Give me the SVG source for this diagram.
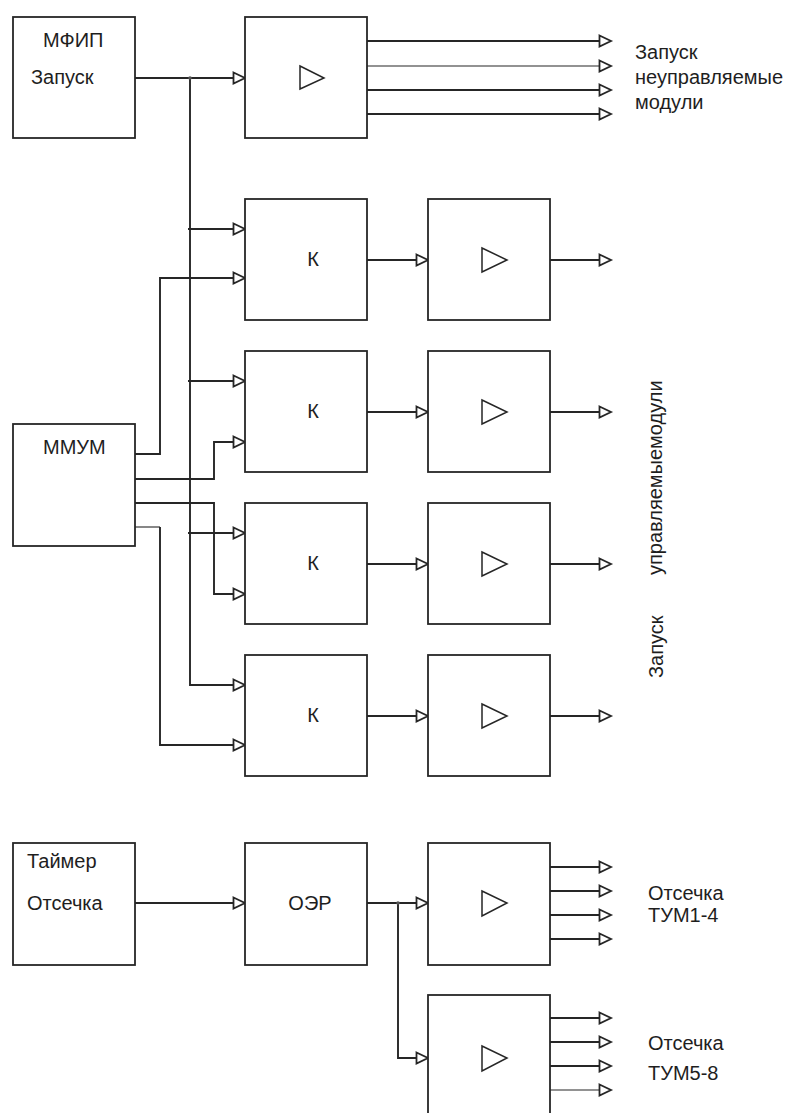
<svg xmlns="http://www.w3.org/2000/svg" width="795" height="1113" viewBox="0 0 795 1113">
<style>
.box{fill:#fff;stroke:#262626;stroke-width:1.8}
.tri{fill:none;stroke:#262626;stroke-width:1.5}
.t{font-family:"Liberation Sans",Arial,sans-serif;font-size:20px;fill:#1e1e1e}
.c{fill:none;stroke:#262626;stroke-width:1.9}
.thin{stroke-width:1.1}
</style>
<defs>
<marker id="arr" markerUnits="userSpaceOnUse" markerWidth="16" markerHeight="14" refX="13" refY="7" orient="auto">
<path d="M1.5,1.5 L13,7 L1.5,12.5 Z" fill="#fff" stroke="#262626" stroke-width="1.8"/>
</marker>
</defs>
<rect width="795" height="1113" fill="#fff"/>

<g id="connectors">
<path class="c" d="M135,78 H245" marker-end="url(#arr)"/>
<path class="c" d="M190,78 V685 H245" marker-end="url(#arr)"/>
<path class="c" d="M188,229 H245" marker-end="url(#arr)"/>
<path class="c" d="M188,381 H245" marker-end="url(#arr)"/>
<path class="c" d="M188,533 H245" marker-end="url(#arr)"/>
<path class="c" d="M367,41 H611" marker-end="url(#arr)"/>
<path class="c thin" d="M367,66 H611" marker-end="url(#arr)"/>
<path class="c" d="M367,90 H611" marker-end="url(#arr)"/>
<path class="c" d="M367,114 H611" marker-end="url(#arr)"/>
<path class="c" d="M367,260 H428" marker-end="url(#arr)"/>
<path class="c" d="M367,412 H428" marker-end="url(#arr)"/>
<path class="c" d="M367,564 H428" marker-end="url(#arr)"/>
<path class="c" d="M367,716 H428" marker-end="url(#arr)"/>
<path class="c" d="M550,260 H611" marker-end="url(#arr)"/>
<path class="c" d="M550,412 H611" marker-end="url(#arr)"/>
<path class="c" d="M550,564 H611" marker-end="url(#arr)"/>
<path class="c" d="M550,716 H611" marker-end="url(#arr)"/>
<path class="c" d="M135,454 H160 V278 H245" marker-end="url(#arr)"/>
<path class="c" d="M135,479 H214 V442 H245" marker-end="url(#arr)"/>
<path class="c" d="M135,503 H214 V594 H245" marker-end="url(#arr)"/>
<path class="c thin" d="M135,527 H160"/>
<path class="c" d="M160,527 V745 H245" marker-end="url(#arr)"/>
<path class="c" d="M135,903 H245" marker-end="url(#arr)"/>
<path class="c" d="M367,903 H428" marker-end="url(#arr)"/>
<path class="c" d="M398,903 V1058 H428" marker-end="url(#arr)"/>
<path class="c" d="M550,867 H611" marker-end="url(#arr)"/>
<path class="c" d="M550,891 H611" marker-end="url(#arr)"/>
<path class="c" d="M550,915 H611" marker-end="url(#arr)"/>
<path class="c" d="M550,939 H611" marker-end="url(#arr)"/>
<path class="c" d="M550,1018 H611" marker-end="url(#arr)"/>
<path class="c" d="M550,1042 H611" marker-end="url(#arr)"/>
<path class="c" d="M550,1066 H611" marker-end="url(#arr)"/>
<path class="c thin" d="M550,1090 H611" marker-end="url(#arr)"/>
<circle cx="190" cy="78" r="1.8" fill="#555"/>
<circle cx="398" cy="903" r="1.8" fill="#555"/>
</g>

<g id="mfip">
<rect class="box" x="13" y="17" width="122" height="121"/>
<text class="t" x="43" y="47">МФИП</text>
<text class="t" x="31" y="84">Запуск</text>
</g>
<g id="amp-top">
<rect class="box" x="245" y="17" width="122" height="121"/>
<path class="tri" d="M300,66 L324,78 L300,89 Z"/>
</g>
<g id="label-top">
<text class="t" x="635" y="59">Запуск</text>
<text class="t" x="635" y="84">неуправляемые</text>
<text class="t" x="635" y="109">модули</text>
</g>

<g id="k1">
<rect class="box" x="245" y="199" width="122" height="121"/>
<text class="t" x="313" y="266" text-anchor="middle">К</text>
</g>
<g id="amp1">
<rect class="box" x="428" y="199" width="122" height="121"/>
<path class="tri" d="M482,248 L507,260 L482,272 Z"/>
</g>
<g id="k2">
<rect class="box" x="245" y="351" width="122" height="121"/>
<text class="t" x="313" y="418" text-anchor="middle">К</text>
</g>
<g id="amp2">
<rect class="box" x="428" y="351" width="122" height="121"/>
<path class="tri" d="M482,400 L507,412 L482,424 Z"/>
</g>
<g id="k3">
<rect class="box" x="245" y="503" width="122" height="121"/>
<text class="t" x="313" y="570" text-anchor="middle">К</text>
</g>
<g id="amp3">
<rect class="box" x="428" y="503" width="122" height="121"/>
<path class="tri" d="M482,552 L507,564 L482,576 Z"/>
</g>
<g id="k4">
<rect class="box" x="245" y="655" width="122" height="121"/>
<text class="t" x="313" y="722" text-anchor="middle">К</text>
</g>
<g id="amp4">
<rect class="box" x="428" y="655" width="122" height="121"/>
<path class="tri" d="M482,704 L507,716 L482,728 Z"/>
</g>

<g id="mmum">
<rect class="box" x="13" y="424" width="122" height="122"/>
<text class="t" x="43" y="454">ММУМ</text>
</g>

<g id="label-vertical">
<text class="t" transform="translate(662,575) rotate(-90)">управляемыемодули</text>
<text class="t" transform="translate(663,678) rotate(-90)">Запуск</text>
</g>

<g id="timer">
<rect class="box" x="13" y="843" width="122" height="122"/>
<text class="t" x="27" y="868">Таймер</text>
<text class="t" x="27" y="910">Отсечка</text>
</g>
<g id="oer">
<rect class="box" x="245" y="843" width="122" height="122"/>
<text class="t" x="310" y="910" text-anchor="middle">ОЭР</text>
</g>
<g id="amp-b1">
<rect class="box" x="428" y="843" width="122" height="122"/>
<path class="tri" d="M482,891 L507,903 L482,916 Z"/>
</g>
<g id="amp-b2">
<rect class="box" x="428" y="995" width="122" height="130"/>
<path class="tri" d="M482,1046 L507,1058 L482,1071 Z"/>
</g>
<g id="label-b1">
<text class="t" x="648" y="900">Отсечка</text>
<text class="t" x="648" y="922">ТУМ1-4</text>
</g>
<g id="label-b2">
<text class="t" x="648" y="1050">Отсечка</text>
<text class="t" x="648" y="1080">ТУМ5-8</text>
</g>
</svg>
